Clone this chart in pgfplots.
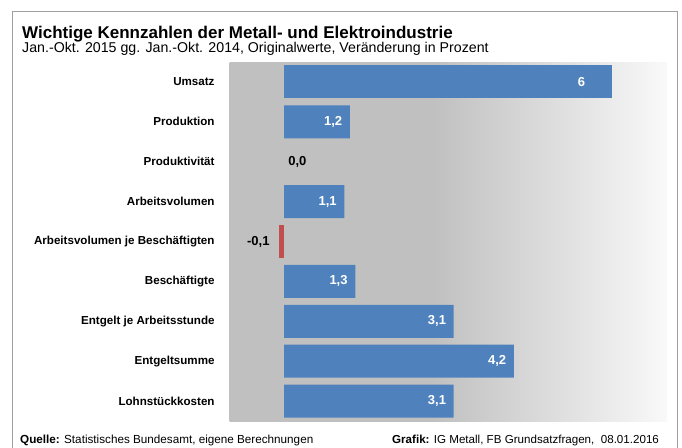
\documentclass[border=0pt]{standalone}
\usepackage{pgfplots}
\pgfplotsset{compat=1.18}
\usepackage{fontspec}
\setmainfont{Liberation Sans}
\definecolor{barblue}{HTML}{4F81BD}
\definecolor{barred}{HTML}{C0504D}
\definecolor{bggray}{HTML}{C0C0C0}
\definecolor{bgwhite}{HTML}{F9F9F9}
\definecolor{framegray}{HTML}{A0A0A0}
\pgfdeclarehorizontalshading{bgshade}{100bp}{color(0bp)=(bggray); color(48.3bp)=(bggray); color(75bp)=(bgwhite); color(100bp)=(bgwhite)}
\begin{document}
\begin{tikzpicture}
\path[use as bounding box] (0bp,0bp) rectangle (682bp,448bp);
\draw[framegray, line width=1bp] (12bp,-2bp) -- (12bp,436bp) -- (677.5bp,436bp) -- (677.5bp,-2bp);
\node[anchor=base west, inner sep=0pt, font=\fontsize{17bp}{19bp}\selectfont\bfseries] at (22bp,409bp) {Wichtige Kennzahlen der Metall- und Elektroindustrie};
\node[anchor=base west, inner sep=0pt, font=\fontsize{14.2bp}{16bp}\selectfont] at (22bp,395bp) {Jan.-Okt. 2015 gg. Jan.-Okt. 2014, Originalwerte, Veränderung in Prozent};
\node[anchor=base west, inner sep=0pt, font=\fontsize{11.7bp}{13bp}\selectfont] at (20bp,5bp) {\textbf{Quelle:} Statistisches Bundesamt, eigene Berechnungen};
\node[anchor=base west, inner sep=0pt, font=\fontsize{11.6bp}{13bp}\selectfont] at (392bp,5bp) {\textbf{Grafik:} IG Metall, FB Grundsatzfragen,\ \ 08.01.2016};
\begin{axis}[
  at={(229.5bp,27bp)}, anchor=south west,
  width=437.5bp, height=359bp, scale only axis,
  xmin=-1, xmax=7, ymin=-0.5, ymax=8.5, y dir=reverse,
  axis line style={draw=none},
  axis background/.style={shading=bgshade},
  xtick=\empty,
  ytick={0,1,2,3,4,5,6,7,8},
  yticklabels={Umsatz,Produktion,Produktivität,Arbeitsvolumen,Arbeitsvolumen je Beschäftigten,Beschäftigte,Entgelt je Arbeitsstunde,Entgeltsumme,Lohnstückkosten},
  ytick style={draw=none},
  yticklabel style={font=\fontsize{11.6bp}{14bp}\selectfont\bfseries, inner sep=0pt, xshift=-10.5bp},
  xbar, bar width=33bp, bar shift=0pt,
  point meta=explicit symbolic,
  nodes near coords,
  every node near coord/.append style={font=\fontsize{13bp}{15bp}\selectfont\bfseries, inner sep=0pt},
  clip=false,
]
\addplot[fill=barblue, draw=none, nodes near coords style={white, anchor=east, xshift=-27bp}]
  coordinates {(6,0) [6]};
\addplot[fill=barblue, draw=none, nodes near coords style={white, anchor=east, xshift=-7.5bp}]
  coordinates {(1.2,1) [1,2] (1.1,3) [1,1] (1.3,5) [1,3] (3.1,6) [3,1] (4.2,7) [4,2] (3.1,8) [3,1]};
\addplot[fill=none, draw=none, nodes near coords style={black, anchor=west, xshift=4bp}]
  coordinates {(0,2) [0,0]};
\addplot[fill=barred, draw=none, nodes near coords style={black, anchor=east, xshift=-9bp}]
  coordinates {(-0.1,4) [-0,1]};
\end{axis}
\end{tikzpicture}
\end{document}
